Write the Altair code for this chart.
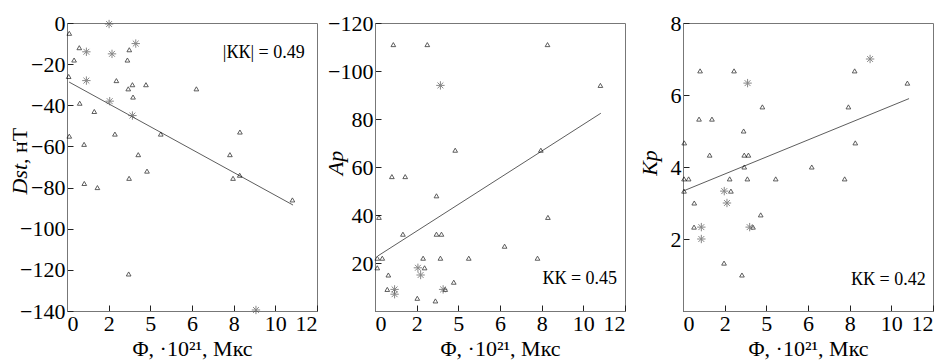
import altair as alt
import pandas as pd

# ---------------- data ----------------
# Panel 1: Dst
dst_tri_phi = [0.11, 0.59, 0.34, 0.08, 0.61, 1.31, 0.11, 0.82, 2.30, 2.37, 2.99, 2.90, 2.94, 3.14, 3.17,
               3.79, 4.50, 3.42, 3.84, 2.98, 6.21, 8.30, 7.82, 7.97, 8.29, 10.82, 0.83, 1.46, 2.96]
dst_tri_val = [-5, -12, -18, -26, -39, -43, -55, -59, -54, -28, -13, -18, -32, -30, -36,
               -30, -54, -64, -72, -75.5, -32, -53, -64, -75.5, -74, -86, -78, -80, -122]
dst_ast_phi = [2.02, 0.93, 2.16, 3.30, 0.93, 2.05, 3.14, 9.07]
dst_ast_val = [-0.5, -14, -15, -10, -28, -38, -45, -139.5]
dst_line_phi = [0.10, 10.85]
dst_line_val = [-28.7, -88.5]

# Panel 2: Ap
ap_tri_phi = [0.88, 2.51, 8.28, 10.82, 3.85, 7.96, 0.81, 1.45, 2.95, 0.19, 8.30, 1.34, 2.95, 3.19, 6.22,
              0.11, 0.35, 2.31, 3.14, 4.50, 7.80, 0.11, 2.38, 0.64, 3.78, 0.59, 3.37, 2.03, 2.90]
ap_tri_val = [111, 111, 111, 94, 67, 67, 56, 56, 48, 39, 39, 32, 32, 32, 27,
              22, 22, 22, 22, 22, 22, 18, 18, 15, 12, 9, 9, 5.3, 4.2]
ap_ast_phi = [3.14, 2.06, 2.19, 0.94, 0.94, 3.27]
ap_ast_val = [94, 18, 15, 9, 7, 9]
ap_line_phi = [0.13, 10.84]
ap_line_val = [22.9, 82.4]

# Panel 3: Kp
kp_tri_phi = [0.82, 2.45, 8.24, 10.77, 3.81, 7.94, 0.77, 1.39, 2.91, 0.06, 8.27, 1.28, 2.94, 3.14, 2.94,
              6.18, 0.05, 0.27, 2.24, 3.09, 4.45, 7.76, 0.05, 2.30, 0.54, 3.73, 0.53, 3.36, 1.97, 2.83]
kp_tri_val = [6.67, 6.67, 6.67, 6.33, 5.67, 5.67, 5.33, 5.33, 5.0, 4.67, 4.67, 4.33, 4.33, 4.33, 4.0,
              4.0, 3.67, 3.67, 3.67, 3.67, 3.67, 3.67, 3.33, 3.33, 3.0, 2.67, 2.33, 2.33, 1.33, 1.0]
kp_ast_phi = [3.10, 8.98, 1.98, 2.11, 0.88, 3.20, 0.88]
kp_ast_val = [6.33, 7.0, 3.33, 3.0, 2.33, 2.33, 2.0]
kp_line_phi = [0.04, 10.85]
kp_line_val = [3.34, 5.9]

x_ticks = [0, 2, 4, 6, 8, 10, 12]
dst_ticks = [0, -20, -40, -60, -80, -100, -120, -140]
ap_ticks = [20, 40, 60, 80, 100, 120]
kp_ticks = [2, 4, 6, 8]

x_title = "Φ, ·10²¹, Мкс"
labels = ["|КК| = 0.49", "КК = 0.45", "КК = 0.42"]
label_pos = [(11.41, -14.4), (11.62, 13.3), (11.65, 0.86)]

FONT = "Times New Roman"
W, H = 250, 288
ASTERISK = "M-1,0L1,0M0,-1L0,1M-0.7,-0.7L0.7,0.7M-0.7,0.7L0.7,-0.7"

AXIS_STYLE = dict(
    labelFont=FONT, labelFontSize=22, labelColor="black",
    titleFont=FONT, titleFontSize=22, titleFontWeight="normal", titleColor="black",
    grid=False, domainColor="#777", tickColor="#222", tickWidth=1,
    tickSize=alt.ExprRef(expr="-6"), labelPadding=8,
)


def panel(tri_phi, tri_val, ast_phi, ast_val, line_phi, line_val, ydom, yticks,
          ylabel_expr, label, lpos, titles):
    xs = alt.Scale(domain=[0, 12], nice=False, zero=False)
    ys = alt.Scale(domain=ydom, nice=False, zero=False)
    xax = alt.Axis(values=x_ticks, title=x_title, titlePadding=4,
                   labelExpr="datum.value == 4 ? '5' : datum.label", **AXIS_STYLE)
    yax = alt.Axis(values=yticks, title=None, labelExpr=ylabel_expr, **AXIS_STYLE)

    X = alt.X("phi:Q", scale=xs, axis=xax)
    Y = alt.Y("v:Q", scale=ys, axis=yax)

    line = alt.Chart(pd.DataFrame({"phi": line_phi, "v": line_val})).mark_line(
        color="#333", strokeWidth=0.8
    ).encode(x=X, y=Y)

    tri = alt.Chart(pd.DataFrame({"phi": tri_phi, "v": tri_val})).mark_point(
        shape="triangle-up", filled=False, size=22, stroke="black", strokeWidth=0.9
    ).encode(x=X, y=Y)

    ast = alt.Chart(pd.DataFrame({"phi": ast_phi, "v": ast_val})).mark_point(
        shape=ASTERISK, filled=False, size=70, stroke="#555", strokeWidth=1
    ).encode(x=X, y=Y)

    txt = alt.Chart(pd.DataFrame({"phi": [lpos[0]], "v": [lpos[1]], "t": [label]})).mark_text(
        font=FONT, fontSize=18, align="right", baseline="middle", color="black"
    ).encode(x=X, y=Y, text="t:N")

    layers = [line, tri, ast, txt]
    for t in titles:
        layers.append(
            alt.Chart(alt.Data(values=[{}])).mark_text(
                text=t["text"], font=FONT, fontSize=22, fontStyle=t.get("style", "normal"),
                angle=270, align=t["align"], baseline="alphabetic", color="black"
            ).encode(x=alt.value(t["x"]), y=alt.value(t["y"]))
        )
    return alt.layer(*layers).properties(width=W, height=H)


p1 = panel(dst_tri_phi, dst_tri_val, dst_ast_phi, dst_ast_val, dst_line_phi, dst_line_val,
           [-140, 0], dst_ticks, "datum.label", labels[0], label_pos[0],
           [{"text": "Dst", "style": "italic", "align": "right", "x": -40, "y": 141},
            {"text": ", нТ", "align": "left", "x": -40, "y": 141}])
p2 = panel(ap_tri_phi, ap_tri_val, ap_ast_phi, ap_ast_val, ap_line_phi, ap_line_val,
           [0, 120], ap_ticks, "datum.value >= 100 ? '−' + datum.label : datum.label",
           labels[1], label_pos[1],
           [{"text": "Ap", "style": "italic", "align": "center", "x": -32, "y": 140}])
p3 = panel(kp_tri_phi, kp_tri_val, kp_ast_phi, kp_ast_val, kp_line_phi, kp_line_val,
           [0, 8], kp_ticks, "datum.label", labels[2], label_pos[2],
           [{"text": "Kp", "style": "italic", "align": "center", "x": -26, "y": 140}])

chart = alt.hconcat(p1, p2, p3, spacing=58, bounds="flush").properties(
    padding={"left": 0, "top": 3, "right": 0, "bottom": 0},
    background="white",
).configure(font=FONT).configure_view(stroke="#777", strokeWidth=1)

chart.save("out.html", embed_options={"renderer": "svg", "actions": False})
